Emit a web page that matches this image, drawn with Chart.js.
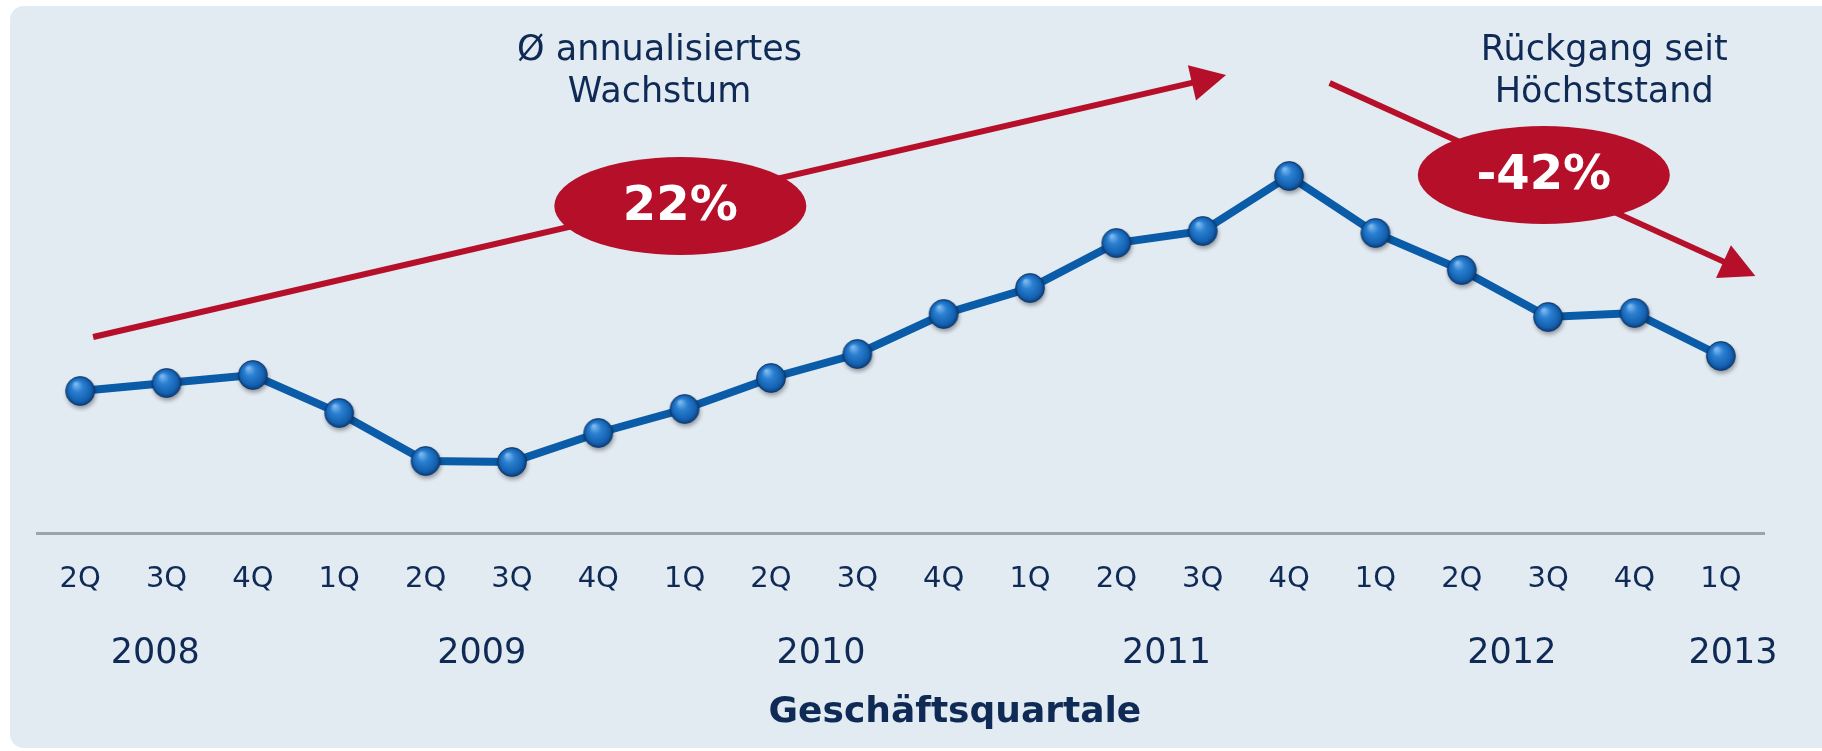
<!DOCTYPE html>
<html>
<head>
<meta charset="utf-8">
<script src="https://cdn.jsdelivr.net/npm/chart.js@4/dist/chart.umd.min.js"></script>
<style>
  html, body { margin: 0; padding: 0; background: #fff; }
  #wrap { width: 1822px; height: 751px; }
</style>
</head>
<body>
<div id="wrap"><canvas id="quartalchart"></canvas></div>
<script>
// quarters along the x axis
var quarters = ['2Q','3Q','4Q','1Q','2Q','3Q','4Q','1Q','2Q','3Q','4Q','1Q','2Q','3Q','4Q','1Q','2Q','3Q','4Q','1Q'];
// index values
var werte = [35.5, 37.5, 39.5, 30, 18, 17.75, 25, 31, 38.75, 44.75, 54.75, 61.25, 72.5, 75.5, 89.25, 75, 65.75, 54, 55, 44.25];
// year labels and where they sit (in quarter index units)
var jahre = ['2008', '2009', '2010', '2011', '2012', '2013'];
var jahrPos = [0.87, 4.65, 8.58, 12.58, 16.58, 19.14];
var achsenTitel = 'Geschäftsquartale';

// arrows: [fromIndex, fromValue, toIndex, toValue]
var pfeile = [
  [0.15, 49, 13.27, 114.5],
  [14.47, 112.5, 19.4, 64.25]
];
// red badges: [index, value, text]
var badges = [
  [6.95, 81.75, '22%'],
  [16.95, 89.5, '-42%']
];
// captions: [index, value, text]
var notizen = [
  [6.71, 120.5, 'Ø annualisiertes'],
  [6.71, 110, 'Wachstum'],
  [17.65, 120.5, 'Rückgang seit'],
  [17.65, 110, 'Höchststand']
];

var dunkelblau = '#0e2a55';
var rot = '#b50f2a';

//sphere marker drawn once on a small canvas
var kugel = document.createElement('canvas');
kugel.width = 42; kugel.height = 42;
(function() {
  var k = kugel.getContext('2d');
  k.save();
  k.shadowColor = 'rgba(0,0,0,0.35)';
  k.shadowBlur = 4;
  k.shadowOffsetX = 1;
  k.shadowOffsetY = 3;
  var g = k.createRadialGradient(16.5, 14, 1, 21, 21, 14.5);
  g.addColorStop(0, '#7ab6ee');
  g.addColorStop(0.35, '#2b80d1');
  g.addColorStop(0.8, '#1461b1');
  g.addColorStop(1, '#0b3e7a');
  k.beginPath();
  k.arc(21, 21, 14.5, 0, Math.PI * 2);
  k.fillStyle = g;
  k.fill();
  k.restore();
  k.beginPath();
  k.arc(21, 21, 14.5, 0, Math.PI * 2);
  k.strokeStyle = 'rgba(10,50,100,0.7)';
  k.lineWidth = 1;
  k.stroke();
})();

var hintergrund = {
  id: 'hintergrund',
  beforeDraw: function(chart) {
    var c = chart.ctx;
    c.save();
    c.fillStyle = '#e2eaf2';
    c.beginPath();
    c.roundRect(10, 6, 1840, 742, 14);
    c.fill();
    c.restore();
  }
};

var extras = {
  id: 'extras',
  afterDraw: function(chart) {
    var c = chart.ctx, xs = chart.scales.x, ys = chart.scales.y;
    c.save();

    // year labels under the quarters
    c.fillStyle = dunkelblau;
    c.font = '35px "DejaVu Sans"';
    c.textAlign = 'center';
    c.textBaseline = 'middle';
    jahre.forEach(function(j, i) {
      c.fillText(j, xs.getPixelForValue(jahrPos[i]), 654);
    });

    // axis title, sits a bit right of the centre like in the original
    c.font = 'bold 36px "DejaVu Sans"';
    c.fillText(achsenTitel, xs.getPixelForValue(10.13), 713);

    // arrows
    c.strokeStyle = rot;
    c.fillStyle = rot;
    c.lineWidth = 6;
    pfeile.forEach(function(p) {
      var x1 = xs.getPixelForValue(p[0]), y1 = ys.getPixelForValue(p[1]);
      var x2 = xs.getPixelForValue(p[2]), y2 = ys.getPixelForValue(p[3]);
      var a = Math.atan2(y2 - y1, x2 - x1);
      var len = 35, half = 18;
      var bx = x2 - len * Math.cos(a), by = y2 - len * Math.sin(a);
      c.beginPath();
      c.moveTo(x1, y1);
      c.lineTo(bx + 2 * Math.cos(a), by + 2 * Math.sin(a));
      c.stroke();
      c.beginPath();
      c.moveTo(x2, y2);
      c.lineTo(bx + half * Math.sin(a), by - half * Math.cos(a));
      c.lineTo(bx - half * Math.sin(a), by + half * Math.cos(a));
      c.closePath();
      c.fill();
    });

    // badges
    badges.forEach(function(b) {
      var x = xs.getPixelForValue(b[0]), y = ys.getPixelForValue(b[1]);
      c.fillStyle = rot;
      c.beginPath();
      c.ellipse(x, y, 126, 49, 0, 0, Math.PI * 2);
      c.fill();
      c.fillStyle = '#ffffff';
      c.font = 'bold 48px "DejaVu Sans"';
      c.fillText(b[2], x, y + 2);
    });

    // captions
    c.fillStyle = dunkelblau;
    c.font = '35px "DejaVu Sans"';
    notizen.forEach(function(n) {
      c.fillText(n[2], xs.getPixelForValue(n[0]), ys.getPixelForValue(n[1]));
    });
    c.restore();
  }
};

var ctx = document.getElementById('quartalchart').getContext('2d');
var quartalchart = new Chart(ctx, {
  type: 'line',
  data: {
    labels: quarters,
    datasets: [{
      data: werte,
      borderColor: '#0a5ca8',
      borderWidth: 8,
      tension: 0,
      pointStyle: kugel,
      pointRadius: 15,
      pointHoverRadius: 15,
      clip: false
    }]
  },
  options: {
    responsive: true,
    maintainAspectRatio: false,
    animation: false,
    layout: { padding: { left: 37, right: 58, top: 133, bottom: 0 } },
    plugins: { legend: { display: false }, tooltip: { enabled: false } },
    scales: {
      x: {
        offset: true,
        grid: { display: false, drawTicks: false },
        border: { display: true, color: '#9ca3ad', width: 3 },
        ticks: {
          color: dunkelblau,
          padding: 29,
          font: { family: 'DejaVu Sans', size: 29, lineHeight: 1.2 }
        },
        title: { display: false },
        afterFit: function(scale) { scale.height = 218; }
      },
      y: {
        display: false,
        min: 0,
        max: 100
      }
    }
  },
  plugins: [hintergrund, extras]
});
</script>
</body>
</html>
